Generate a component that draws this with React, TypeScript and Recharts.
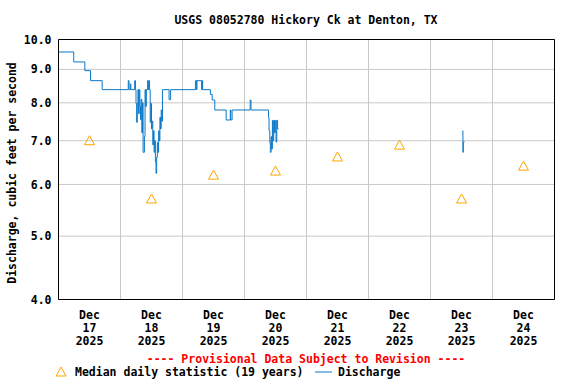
import { ComposedChart, Line, XAxis, YAxis, CartesianGrid, ReferenceArea } from "recharts";

// hours since Dec 17 00:00, discharge in cfs (null = gap in record)
const flowHours = [
    0, 5.9, 10.2, 12.4, 16.9, 27.0, 27.3, 27.8, 28.0, 29.5, 29.8, 30.0, 30.25, 30.5, 30.75, 31.0, 31.25,
    31.5, 31.75, 32.0, 32.25, 32.5, 32.75, 33.25, 33.5, 33.75, 34.0, 34.5, 34.75, 35.0, 35.25, 35.5, 35.75,
    36.0, 36.25, 36.5, 36.75, 37.0, 37.25, 37.5, 37.75, 38.0, 38.25, 38.5, 38.75, 39.0, 39.25, 39.5, 39.75,
    40.0, 40.25, 42.8, 43.4, 53.0, 53.4, 53.6, 55.4, 55.6, 55.8, 58.8, 59.5, 60.5, 64.9, 66.5, 66.7, 67.2,
    74.2, 74.5, 81.3, 81.5, 81.8, 82.0, 82.3, 82.5, 82.8, 83.0, 83.3, 83.6, 83.9, 84.2, 84.5, 84.8, 85.2,
    85.4, 156.4, 156.55, 156.7, 157.2,
];
const flowCfs = [
    9.57, 9.24, 8.96, 8.65, 8.38, 8.65, 8.38, 8.55, 8.38, 8.65, 8.38, 7.98, 7.47, 7.98, 8.38, 7.7, 8.38,
    7.9, 7.54, 8.1, 7.2, 8.0, 6.72, 7.1, 8.38, 7.9, 8.38, 8.65, 8.38, 8.65, 8.38, 7.47, 7.98,
    7.3, 7.5, 6.9, 7.25, 6.72, 7.0, 6.5, 6.24, 6.6, 6.95, 6.72, 7.25, 7.0, 7.6, 7.3, 7.8,
    7.5, 8.38, 8.09, 8.38, 8.65, 8.38, 8.65, 8.38, 8.65, 8.38, 8.24, 8.08, 7.8, 7.53, 7.8, 7.53, 7.8,
    8.08, 7.8, 7.6, 7.25, 6.95, 6.72, 7.1, 6.8, 7.52, 7.0, 7.52, 7.2, 7.52, 6.97, 7.52, 7.3, 7.3,
    null, 7.25, 6.72, 6.97, 6.97,
];

const medianHours = [12, 36, 60, 84, 108, 132, 156, 180];
const medianCfs = [7.0, 5.7, 6.2, 6.29, 6.61, 6.89, 5.7, 6.4];

const dayBoundaries = [24, 48, 72, 96, 120, 144, 168];
const dayLabels = ["17", "18", "19", "20", "21", "22", "23", "24"];
const yTicks = [4, 5, 6, 7, 8, 9, 10];

const flowData = flowHours.map((h, i) => ({ h, cfs: flowCfs[i] }));
const medianData = medianHours.map((h, i) => ({ h, cfs: medianCfs[i] }));

const FONT = "'DejaVu Sans Mono', monospace";
const BLUE = "#0a78c8";
const ORANGE = "#ffa500";

const DayTick = ({ x, y, payload }: any) => {
    const i = Math.round((payload.value - 12) / 24);
    return (
        <g fontFamily={FONT} fontWeight="bold" fontSize={11.5} fill="#000">
            <text x={x} y={y + 19} textAnchor="middle">Dec</text>
            <text x={x} y={y + 32} textAnchor="middle">{dayLabels[i]}</text>
            <text x={x} y={y + 45} textAnchor="middle">2025</text>
        </g>
    );
};

const Triangle = ({ cx, cy }: any) => {
    if (cx == null || cy == null) return null;
    return (
        <path
            d={`M${cx},${cy - 5} L${cx + 5},${cy + 4} L${cx - 5},${cy + 4} Z`}
            fill="none"
            stroke={ORANGE}
            strokeWidth={1}
        />
    );
};

export default function App() {
    return (
        <div style={{ position: "absolute", top: 0, left: 0, width: 576, height: 384, background: "#fff" }}>
            <ComposedChart
                width={576}
                height={384}
                margin={{ top: 39.5, right: 21.5, bottom: 0, left: 0 }}
            >
                <CartesianGrid xAxisId="days" stroke="#c8c8c8" strokeDasharray="" />
                <XAxis
                    dataKey="h"
                    type="number"
                    domain={[0, 192]}
                    ticks={medianHours}
                    allowDataOverflow
                    height={84.5}
                    axisLine={false}
                    tickLine={false}
                    tickSize={0}
                    tickMargin={0}
                    tick={<DayTick />}
                    interval={0}
                />
                <XAxis
                    xAxisId="days"
                    dataKey="h"
                    type="number"
                    domain={[0, 192]}
                    ticks={dayBoundaries}
                    allowDataOverflow
                    hide
                />
                <YAxis
                    type="number"
                    scale="log"
                    domain={[4, 10]}
                    ticks={yTicks}
                    allowDataOverflow
                    width={58.5}
                    axisLine={false}
                    tickLine={false}
                    tickSize={0}
                    tickMargin={7}
                    interval={0}
                    tickFormatter={(v: number) => v.toFixed(1)}
                    tick={{ fontFamily: FONT, fontWeight: "bold", fontSize: 11.5, fill: "#000" }}
                />
                <Line
                    data={flowData}
                    dataKey="cfs"
                    type="stepAfter"
                    stroke={BLUE}
                    strokeWidth={1}
                    dot={false}
                    connectNulls={false}
                    isAnimationActive={false}
                />
                <Line
                    data={medianData}
                    dataKey="cfs"
                    stroke="none"
                    dot={<Triangle />}
                    isAnimationActive={false}
                />
                <ReferenceArea x1={0} x2={192} y1={4} y2={10} fill="none" stroke="#000" strokeWidth={1} ifOverflow="visible" />
            </ComposedChart>
            <svg
                width={576}
                height={384}
                style={{ position: "absolute", top: 0, left: 0, pointerEvents: "none" }}
                fontFamily={FONT}
                fontWeight="bold"
                fontSize={11.5}
            >
                <text x={306} y={24} textAnchor="middle" fill="#000">
                    USGS 08052780 Hickory Ck at Denton, TX
                </text>
                <text x={16} y={173} textAnchor="middle" fill="#000" transform="rotate(-90 16 173)">
                    Discharge, cubic feet per second
                </text>
                <text x={306} y={363} textAnchor="middle" fill="#ff0000">
                    ---- Provisional Data Subject to Revision ----
                </text>
                <path d="M61,367 L66,376 L56,376 Z" fill="none" stroke={ORANGE} />
                <text x={75} y={376} fill="#000">Median daily statistic (19 years)</text>
                <line x1={315} x2={332} y1={372} y2={372} stroke={BLUE} />
                <text x={338} y={376} fill="#000">Discharge</text>
            </svg>
        </div>
    );
}
